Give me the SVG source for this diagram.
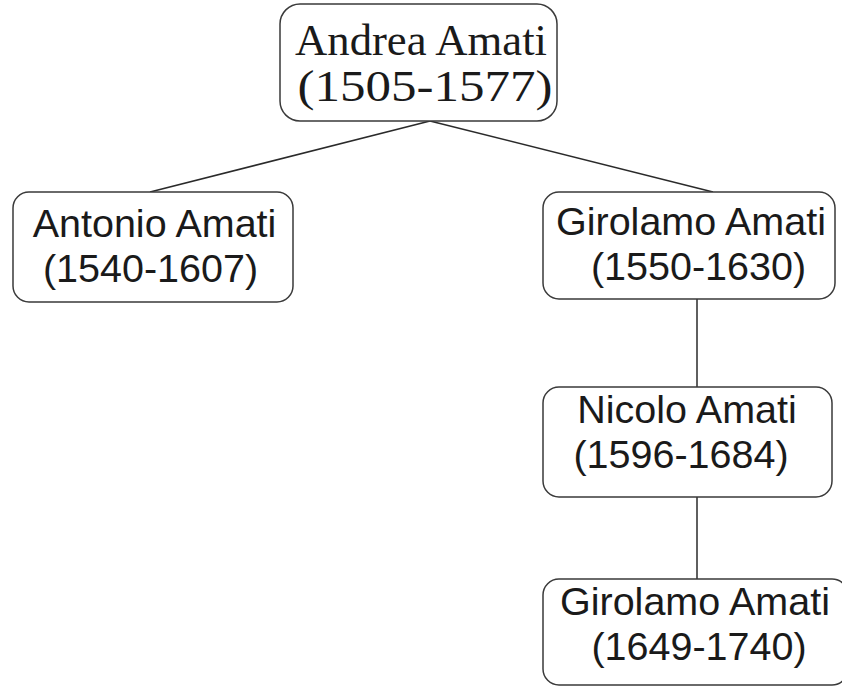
<svg xmlns="http://www.w3.org/2000/svg" width="842" height="689" viewBox="0 0 842 689">
<style>
.box{fill:#ffffff;stroke:#3a3a3a;stroke-width:1.5}
.edge{stroke:#2a2a2a;stroke-width:1.5;fill:none}
.sans{font-family:"Liberation Sans",Arial,sans-serif;font-size:39.5px;fill:#1a1a1a;text-anchor:middle}
.serif{font-family:"Liberation Serif","Times New Roman",serif;font-size:44px;fill:#1a1a1a;text-anchor:middle}
</style>
<rect width="842" height="689" fill="#ffffff"/>
<g id="connectors">
<line class="edge" x1="430" y1="121" x2="150" y2="192"/>
<line class="edge" x1="430" y1="121" x2="713" y2="192"/>
<line class="edge" x1="697" y1="299" x2="697" y2="387"/>
<line class="edge" x1="697" y1="497" x2="697" y2="579"/>
</g>
<g id="andrea">
<rect class="box" x="280" y="4" width="277" height="117" rx="20"/>
<text class="serif" x="421" y="55" textLength="252" lengthAdjust="spacingAndGlyphs">Andrea Amati</text>
<text class="serif" x="425" y="101" textLength="255" lengthAdjust="spacingAndGlyphs">(1505-1577)</text>
</g>
<g id="antonio">
<rect class="box" x="13" y="192" width="280" height="110" rx="16"/>
<text class="sans" x="154.5" y="237">Antonio Amati</text>
<text class="sans" x="150.5" y="282">(1540-1607)</text>
</g>
<g id="girolamo1">
<rect class="box" x="543" y="192" width="292" height="107" rx="16"/>
<text class="sans" x="691" y="235">Girolamo Amati</text>
<text class="sans" x="698.5" y="280">(1550-1630)</text>
</g>
<g id="nicolo">
<rect class="box" x="543" y="387" width="289" height="110" rx="16"/>
<text class="sans" x="687" y="423">Nicolo Amati</text>
<text class="sans" x="681" y="468">(1596-1684)</text>
</g>
<g id="girolamo2">
<rect class="box" x="543" y="579" width="305" height="106" rx="16"/>
<text class="sans" x="695" y="615">Girolamo Amati</text>
<text class="sans" x="699" y="660">(1649-1740)</text>
</g>
</svg>
